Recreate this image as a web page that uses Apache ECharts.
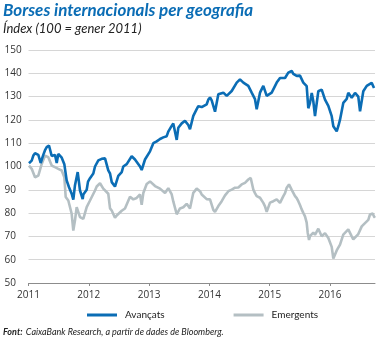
<!DOCTYPE html>
<html>
<head>
<meta charset="utf-8">
<script src="https://cdn.jsdelivr.net/npm/echarts@6/dist/echarts.min.js"></script>
<style>
  html, body { margin: 0; padding: 0; background: #fff; }
  #chart { width: 380px; height: 338px; }
</style>
</head>
<body>
<div id="chart"></div>
<script>
// Index levels (100 = January 2011), time given as decimal years
const avancatsT = [2011.008, 2011.053, 2011.080, 2011.108, 2011.136, 2011.163, 2011.202, 2011.245, 2011.274, 2011.302, 2011.328, 2011.340, 2011.385, 2011.439, 2011.468, 2011.494, 2011.511, 2011.551, 2011.594, 2011.633, 2011.672, 2011.716, 2011.743, 2011.771, 2011.816, 2011.854, 2011.899, 2011.909, 2011.965, 2011.987, 2012.020, 2012.075, 2012.103, 2012.131, 2012.158, 2012.214, 2012.269, 2012.285, 2012.323, 2012.352, 2012.380, 2012.406, 2012.434, 2012.489, 2012.517, 2012.546, 2012.572, 2012.600, 2012.629, 2012.711, 2012.738, 2012.766, 2012.794, 2012.849, 2012.877, 2012.932, 2012.960, 2013.015, 2013.070, 2013.126, 2013.181, 2013.235, 2013.292, 2013.318, 2013.364, 2013.401, 2013.458, 2013.484, 2013.541, 2013.595, 2013.650, 2013.678, 2013.733, 2013.789, 2013.816, 2013.872, 2013.955, 2013.982, 2014.010, 2014.038, 2014.093, 2014.148, 2014.176, 2014.231, 2014.287, 2014.370, 2014.453, 2014.507, 2014.563, 2014.645, 2014.701, 2014.756, 2014.784, 2014.839, 2014.894, 2014.950, 2014.977, 2015.033, 2015.116, 2015.171, 2015.254, 2015.308, 2015.365, 2015.391, 2015.448, 2015.502, 2015.557, 2015.585, 2015.613, 2015.640, 2015.668, 2015.697, 2015.723, 2015.751, 2015.806, 2015.862, 2015.917, 2015.972, 2016.028, 2016.055, 2016.111, 2016.140, 2016.166, 2016.220, 2016.277, 2016.303, 2016.360, 2016.415, 2016.469, 2016.498, 2016.552, 2016.609, 2016.635, 2016.691, 2016.730];
const avancatsV = [101.4, 102.5, 104.7, 105.7, 106.1, 105.0, 101.5, 105.0, 107.0, 108.3, 108.6, 109.0, 104.5, 105.0, 101.5, 105.4, 105.0, 103.8, 101.0, 94.0, 91.1, 88.3, 85.8, 92.0, 97.6, 89.7, 86.0, 88.0, 90.0, 93.5, 95.0, 97.0, 100.0, 100.5, 102.6, 103.3, 103.5, 103.6, 98.3, 97.0, 93.3, 92.5, 91.4, 96.0, 96.6, 97.6, 100.0, 100.0, 101.0, 104.4, 104.0, 103.0, 103.6, 100.0, 98.5, 103.0, 103.6, 106.5, 110.0, 110.8, 111.8, 112.5, 113.0, 115.0, 117.0, 118.5, 111.4, 116.6, 118.5, 119.6, 117.8, 116.0, 121.7, 124.6, 125.9, 125.5, 126.7, 128.7, 129.6, 128.4, 123.5, 131.0, 131.6, 131.7, 130.3, 132.4, 136.0, 137.4, 136.0, 134.6, 131.7, 128.9, 124.6, 131.7, 134.6, 130.3, 130.0, 131.7, 136.0, 138.0, 138.0, 140.3, 141.0, 139.8, 138.9, 139.0, 136.0, 136.5, 134.5, 125.0, 127.3, 131.6, 128.0, 121.6, 132.3, 133.0, 128.7, 126.0, 121.6, 117.3, 115.1, 117.5, 120.1, 127.3, 129.0, 131.6, 129.5, 131.6, 130.0, 123.7, 132.3, 134.6, 135.1, 135.9, 133.7];

const emergentsT = [2011.008, 2011.053, 2011.108, 2011.163, 2011.219, 2011.274, 2011.328, 2011.385, 2011.439, 2011.494, 2011.551, 2011.594, 2011.617, 2011.660, 2011.716, 2011.743, 2011.771, 2011.799, 2011.854, 2011.909, 2011.965, 2012.020, 2012.103, 2012.131, 2012.186, 2012.240, 2012.269, 2012.323, 2012.352, 2012.380, 2012.434, 2012.463, 2012.489, 2012.546, 2012.600, 2012.629, 2012.683, 2012.738, 2012.794, 2012.849, 2012.877, 2012.904, 2012.960, 2013.015, 2013.043, 2013.098, 2013.126, 2013.181, 2013.209, 2013.264, 2013.292, 2013.318, 2013.347, 2013.375, 2013.401, 2013.458, 2013.512, 2013.567, 2013.595, 2013.623, 2013.678, 2013.733, 2013.789, 2013.844, 2013.872, 2013.899, 2013.955, 2014.010, 2014.065, 2014.093, 2014.121, 2014.148, 2014.176, 2014.204, 2014.259, 2014.315, 2014.342, 2014.370, 2014.425, 2014.453, 2014.480, 2014.535, 2014.563, 2014.590, 2014.645, 2014.685, 2014.728, 2014.756, 2014.784, 2014.839, 2014.894, 2014.922, 2014.950, 2015.005, 2015.060, 2015.088, 2015.116, 2015.171, 2015.226, 2015.254, 2015.282, 2015.320, 2015.365, 2015.420, 2015.448, 2015.474, 2015.502, 2015.530, 2015.557, 2015.585, 2015.613, 2015.630, 2015.652, 2015.668, 2015.697, 2015.723, 2015.751, 2015.806, 2015.862, 2015.917, 2015.972, 2016.028, 2016.055, 2016.066, 2016.111, 2016.166, 2016.220, 2016.303, 2016.360, 2016.386, 2016.415, 2016.469, 2016.498, 2016.526, 2016.552, 2016.580, 2016.609, 2016.635, 2016.663, 2016.691, 2016.708, 2016.730, 2016.746];
const emergentsV = [100.4, 99.0, 95.4, 96.1, 101.1, 104.7, 104.0, 100.4, 99.7, 99.0, 98.3, 95.4, 86.9, 85.4, 79.7, 72.5, 76.9, 82.6, 78.3, 77.5, 82.6, 85.4, 89.7, 91.4, 92.8, 90.5, 91.0, 88.3, 82.0, 81.1, 78.0, 79.0, 79.7, 81.0, 82.0, 82.1, 87.0, 85.9, 86.5, 88.0, 83.6, 88.6, 92.5, 93.6, 93.7, 91.6, 92.3, 90.5, 90.9, 88.6, 89.4, 90.7, 91.3, 88.0, 85.0, 79.5, 82.0, 82.5, 82.5, 84.0, 82.0, 88.7, 90.5, 89.4, 88.0, 88.0, 86.0, 85.9, 81.4, 80.5, 80.0, 83.0, 83.0, 85.1, 87.6, 89.4, 90.0, 90.1, 90.9, 91.4, 91.0, 92.3, 92.9, 93.0, 94.4, 95.1, 90.1, 88.6, 87.3, 86.6, 84.4, 82.9, 80.5, 84.5, 85.1, 85.6, 85.9, 84.4, 87.3, 88.6, 90.9, 92.3, 90.0, 87.3, 86.4, 85.1, 83.5, 81.6, 80.1, 78.6, 75.9, 71.6, 68.5, 70.1, 70.5, 71.6, 70.7, 73.3, 70.1, 71.4, 69.3, 65.5, 60.5, 60.2, 64.0, 66.5, 70.8, 73.0, 70.0, 68.7, 69.3, 71.0, 70.5, 74.3, 74.4, 75.7, 75.9, 77.1, 79.4, 79.3, 79.8, 78.5, 78.0];

const yearTicks = [2011, 2012, 2013, 2014, 2015, 2016];
const seriesNames = ['Avançats', 'Emergents'];
const titleText = 'Borses internacionals per geografia';
const subtitleText = 'Índex (100 = gener 2011)';
const sourceLabel = 'Font:';
const sourceText = 'CaixaBank Research, a partir de dades de Bloomberg.';

const BLUE = '#0b6db5';
const GREY = '#b4bfc3';

const zip = (t, v) => t.map((x, i) => [x, v[i]]);

const chart = echarts.init(document.getElementById('chart'), null, { renderer: 'canvas' });

chart.setOption({
  animation: false,
  backgroundColor: '#ffffff',
  textStyle: { fontFamily: 'Open Sans' },
  grid: { left: 28.5, right: 5, top: 50, bottom: 55 },
  xAxis: {
    type: 'value',
    min: 2011,
    max: 2016.746,
    interval: 1,
    axisLine: { lineStyle: { color: '#8c8c8c', width: 1 } },
    axisTick: { show: true, length: 3, lineStyle: { color: '#8c8c8c' } },
    splitLine: { show: false },
    axisLabel: {
      showMaxLabel: false,
      color: '#333',
      fontSize: 10,
      margin: 7,
      formatter: v => (yearTicks.includes(Math.round(v)) ? String(Math.round(v)) : '')
    }
  },
  yAxis: {
    type: 'value',
    min: 50,
    max: 150,
    interval: 10,
    axisLine: { show: false },
    axisTick: { show: false },
    splitLine: { lineStyle: { color: '#d6d6d6', width: 1 } },
    axisLabel: { color: '#333', fontSize: 10, align: 'left', margin: 24 }
  },
  legend: {
    data: seriesNames,
    top: 310,
    left: 87,
    padding: 0,
    itemWidth: 30,
    itemHeight: 3,
    itemGap: 69,
    icon: 'rect',
    textStyle: { fontSize: 10, color: '#222', fontFamily: 'Lato', padding: [0, 0, 0, 3] }
  },
  series: [
    {
      name: seriesNames[0],
      type: 'line',
      data: zip(avancatsT, avancatsV),
      showSymbol: false,
      z: 3,
      lineStyle: { color: BLUE, width: 2.6 },
      itemStyle: { color: BLUE }
    },
    {
      name: seriesNames[1],
      type: 'line',
      data: zip(emergentsT, emergentsV),
      showSymbol: false,
      z: 2,
      lineStyle: { color: GREY, width: 2.6 },
      itemStyle: { color: GREY }
    }
  ],
  graphic: [
    {
      type: 'text', left: 3, top: 2,
      style: { text: titleText, fill: '#0b6db5', font: 'italic bold 17px Lato' }
    },
    {
      type: 'text', left: 3, top: 22,
      style: { text: subtitleText, fill: '#222', font: 'italic 13px Lato' }
    },
    {
      type: 'text', left: 3, top: 326,
      style: {
        text: '{b|' + sourceLabel + '} {i|' + sourceText + '}',
        rich: {
          b: { font: 'italic bold 9px Lato', fill: '#222' },
          i: { font: 'italic 9px Lato', fill: '#222' }
        }
      }
    }
  ]
});
</script>
</body>
</html>
